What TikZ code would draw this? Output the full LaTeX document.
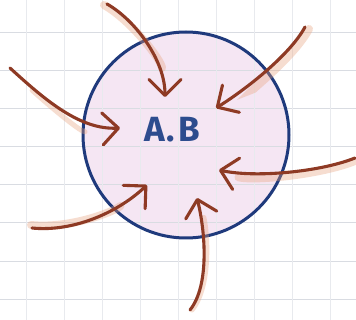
\documentclass[tikz,border=0pt]{standalone}
\usepackage{fontspec}
\newfontfamily\handfont{Fira Sans}
\usetikzlibrary{arrows.meta}
\definecolor{brownc}{HTML}{8E3A24}
\definecolor{shadec}{HTML}{E8A07A}
\definecolor{circc}{HTML}{1F3A7C}
\definecolor{fillc}{HTML}{F5E6F3}
\definecolor{textc}{HTML}{2D4C8E}
\definecolor{gridc}{HTML}{D9DCE2}
\definecolor{gridv}{HTML}{E8EAEE}
\tikzset{
  arr/.style={draw=brownc, line width=3.1pt, line cap=round,
    -{Straight Barb[length=16pt, width=32pt, line cap=round, line join=round]}},
  shadeband/.style={draw=shadec, line width=8pt, opacity=0.35, line cap=round},
  gridline/.style={draw=gridc, line width=0.8pt},
  gridvline/.style={draw=gridv, line width=0.8pt},
  lbl/.style={text=textc, font=\handfont\fontsize{35}{40}\selectfont\bfseries, inner sep=0pt}
}
\begin{document}
\begin{tikzpicture}[x=1pt, y=-1pt]
\useasboundingbox (0,0) rectangle (356,320);
\fill[white] (0,0) rectangle (356,320);
% circle fill
\fill[fillc] (186,135) circle (103);
% grid
\foreach \yy in {32,70,108,146,184,222,261,299} \draw[gridline] (0,\yy) -- (356,\yy);
\foreach \xx in {26,64,102,140,178,216,254,292,330} \draw[gridvline] (\xx,0) -- (\xx,320);
% circle
\node[circle, minimum size=206pt, inner sep=0pt, draw=circc, line width=3pt] (C) at (186,135) {};
\node[lbl] (AB) at (172,130) {A\kern2pt.\kern3pt B};
% coordinates
\coordinate (s1) at (107,4);   \coordinate (t1) at (165,97);
\coordinate (s2) at (305,27);  \coordinate (t2) at (216,108);
\coordinate (s3) at (10,68);   \coordinate (t3) at (120,128);
\coordinate (s4) at (355,158); \coordinate (t4) at (219,170);
\coordinate (s5) at (32,228);  \coordinate (t5) at (147,185);
\coordinate (s6) at (190,310); \coordinate (t6) at (197,198);
% shadows
\draw[shadeband, shorten >=30pt] ([shift={(-3,1)}]s1) .. controls ([shift={(-3,1)}]135,20) and ([shift={(-3,1)}]165,60) .. ([shift={(-3,1)}]t1);
\draw[shadeband, shorten >=40pt] ([shift={(4,2)}]s2) .. controls ([shift={(4,2)}]290,55) and ([shift={(4,2)}]245,90) .. ([shift={(4,2)}]t2);
\draw[shadeband, shorten >=35pt, shorten <=30pt, line width=5pt] ([shift={(0,2)}]s3) .. controls ([shift={(0,2)}]45,100) and ([shift={(0,2)}]80,130) .. ([shift={(0,2)}]t3);
\draw[shadeband, shorten >=20pt] ([shift={(0,3)}]s4) .. controls ([shift={(0,3)}]320,172) and ([shift={(0,3)}]255,178) .. ([shift={(0,3)}]t4);
\draw[shadeband, shorten >=35pt] ([shift={(-1,-3)}]s5) .. controls ([shift={(-1,-3)}]70,232) and ([shift={(-1,-3)}]115,215) .. ([shift={(-1,-3)}]t5);
\draw[shadeband, shorten >=20pt, line width=5pt] ([shift={(2,0)}]s6) .. controls ([shift={(2,0)}]210,285) and ([shift={(2,0)}]205,230) .. ([shift={(2,0)}]t6);
% arrows
\draw[arr] (s1) .. controls (135,20) and (165,60) .. (t1);
\draw[arr] (s2) .. controls (290,55) and (245,90) .. (t2);
\draw[arr] (s3) .. controls (45,100) and (80,130) .. (t3);
\draw[arr] (s4) .. controls (320,172) and (255,178) .. (t4);
\draw[arr] (s5) .. controls (70,232) and (115,215) .. (t5);
\draw[arr] (s6) .. controls (210,285) and (205,230) .. (t6);
\end{tikzpicture}
\end{document}
